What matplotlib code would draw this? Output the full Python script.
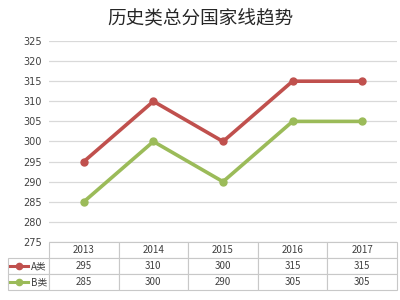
import matplotlib
matplotlib.use("Agg")
import matplotlib.pyplot as plt
from matplotlib.lines import Line2D

plt.rcParams['font.family'] = ['Noto Sans CJK SC', 'DejaVu Sans']

# 数据
years = ['2013', '2014', '2015', '2016', '2017']
a_vals = [295, 310, 300, 315, 315]
b_vals = [285, 300, 290, 305, 305]
series_names = ['A类', 'B类']
y_ticks = [275, 280, 285, 290, 295, 300, 305, 310, 315, 320, 325]

red = '#C0504D'
green = '#9BBB59'
grid_c = '#D9D9D9'
text_c = '#404040'

fig = plt.figure(figsize=(4, 3), dpi=100)
ax = fig.add_axes([49/400, 1-242/300, 348/400, 201/300])

x = list(range(len(years)))
ax.plot(x, a_vals, color=red, lw=2.6, marker='o', ms=5, solid_capstyle='round', zorder=3)
ax.plot(x, b_vals, color=green, lw=2.6, marker='o', ms=5, solid_capstyle='round', zorder=3)

ax.set_xlim(-0.5, len(years) - 0.5)
ax.set_ylim(y_ticks[0], y_ticks[-1])
ax.set_yticks(y_ticks)
ax.set_yticklabels([str(t) for t in y_ticks], fontsize=7, color=text_c, family='DejaVu Sans')
ax.set_xticks([])
ax.tick_params(axis='y', length=0, pad=5)
ax.yaxis.grid(True, color=grid_c, lw=0.9)
ax.set_axisbelow(True)
for s in ax.spines.values():
    s.set_visible(False)

# 数据表
axw = 348.0
axh = 201.0
lab_w = 41.0
col_w = axw / len(years)
cell_text = [[''] + years,
             [series_names[0]] + [str(v) for v in a_vals],
             [series_names[1]] + [str(v) for v in b_vals]]
widths = [lab_w / (axw + lab_w)] + [col_w / (axw + lab_w)] * len(years)
tab = ax.table(cellText=cell_text, colWidths=widths, cellLoc='center',
               bbox=[-lab_w/axw, -48/axh, (axw + lab_w)/axw, 48/axh])
tab.auto_set_font_size(False)
tab.set_fontsize(7)
for (r, c), cell in tab.get_celld().items():
    cell.set_edgecolor('#C8C8C8')
    cell.set_linewidth(0.8)
    cell.get_text().set_color(text_c)
    if r == 0 and c == 0:
        cell.visible_edges = ''
    if c == 0 and r > 0:
        cell.get_text().set_ha('right')
        cell._loc = 'right'
        cell.PAD = 0.05

# 图例标记
for i, col in enumerate([red, green]):
    yy = -(16 * (i + 1) + 8) / axh
    ax.add_line(Line2D([(10-49)/axw, (28-49)/axw], [yy, yy], color=col, lw=2.2,
                       transform=ax.transAxes, clip_on=False))
    ax.add_line(Line2D([(19-49)/axw], [yy], color=col, marker='o', ms=4.5,
                       transform=ax.transAxes, clip_on=False))

fig.text(0.5, 1-18/300, '历史类总分国家线趋势', ha='center', va='center',
         fontsize=13.4, color='#262626')

fig.savefig('out.png', dpi=100)
